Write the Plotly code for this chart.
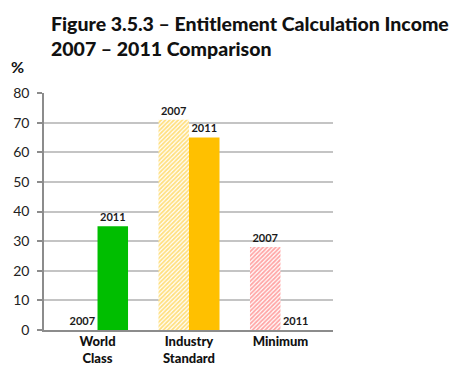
import plotly.graph_objects as go

categories = ["World<br>Class", "Industry<br>Standard", "Minimum"]
values_2007 = [0, 71, 28]
values_2011 = [35, 65, 0]
series_names = ["2007", "2011"]
bar_colors = ["#00BE00", "#FFC000", "#FF4C4C"]
y_ticks = [0, 10, 20, 30, 40, 50, 60, 70, 80]

label_font = dict(family="Lato", size=11, color="#1a1a1a", weight="bold")

fig = go.Figure()

# 2007: hatched bars
fig.add_trace(go.Bar(
    x=categories, y=values_2007, name=series_names[0],
    text=[series_names[0]] * len(categories), textposition="outside",
    textfont=label_font, cliponaxis=False,
    marker=dict(
        color="white",
        line=dict(width=0),
        pattern=dict(shape="/", fgcolor=bar_colors, bgcolor="white",
                     size=3, solidity=0.6, fillmode="overlay"),
    ),
))

# 2011: solid bars
fig.add_trace(go.Bar(
    x=categories, y=values_2011, name=series_names[1],
    text=[series_names[1]] * len(categories), textposition="outside",
    textfont=label_font, cliponaxis=False,
    marker=dict(color=bar_colors, line=dict(width=0)),
))

fig.update_layout(
    width=453, height=365,
    margin=dict(l=44, r=120, t=93, b=35),
    paper_bgcolor="white", plot_bgcolor="white",
    barmode="group", bargap=0.333, bargroupgap=0,
    showlegend=False,
    font=dict(family="Lato", color="#222222"),
    annotations=[
        dict(text="Figure 3.5.3 – Entitlement Calculation Income<br>2007 – 2011 Comparison",
             xref="paper", yref="paper", x=(49 - 44) / 289, y=1 + (93 - 10) / 237,
             xanchor="left", yanchor="top", align="left", showarrow=False,
             font=dict(family="Lato", size=19.5, color="#111111", weight=900)),
        dict(text="%", xref="paper", yref="paper", x=(9 - 44) / 289, y=1 + (93 - 55) / 237,
             xanchor="left", yanchor="top", showarrow=False,
             font=dict(family="Lato", size=16, color="#111111", weight="bold")),
    ],
)

fig.update_xaxes(
    range=[-0.585, 2.574], automargin=False,
    showline=True, linecolor="#8c8c8c", linewidth=1.5,
    ticks="", showgrid=False, ticklabelstandoff=-1,
    tickfont=dict(family="Lato", size=13, color="#111111", weight=900),
)
fig.update_yaxes(
    range=[0, 80], tickvals=y_ticks, automargin=False,
    showgrid=True, gridcolor="#c4c4c4", gridwidth=1.5,
    showline=True, linecolor="#8c8c8c", linewidth=1.5,
    ticks="outside", ticklen=5, tickcolor="#8c8c8c", tickwidth=1.5,
    ticklabelstandoff=5,
    tickfont=dict(family="Lato", size=14, color="#222222"),
    zeroline=False,
)

fig.write_html("out.html")
